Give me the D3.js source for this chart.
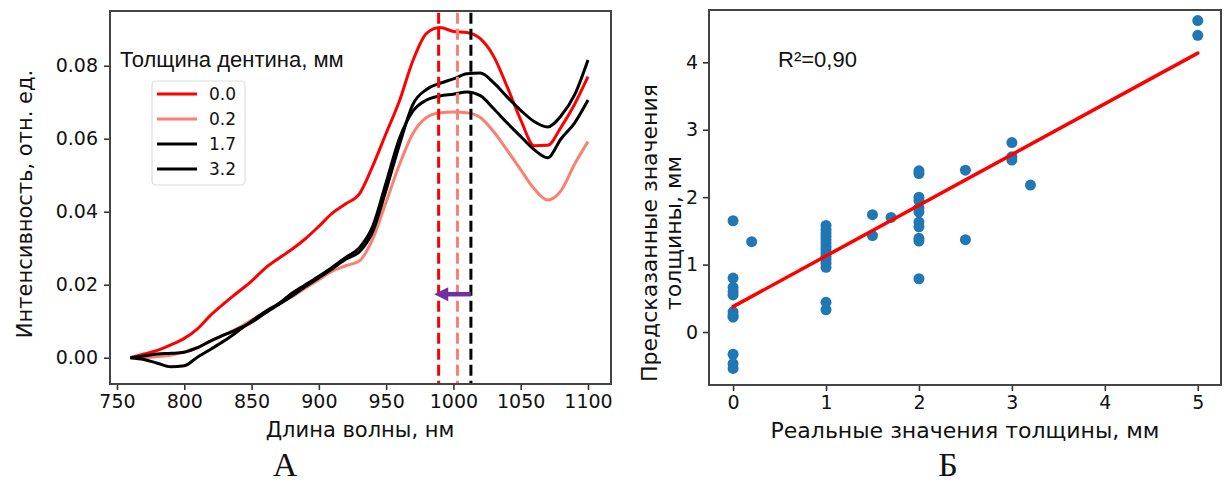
<!DOCTYPE html>
<html>
<head>
<meta charset="utf-8">
<script src="https://cdn.jsdelivr.net/npm/d3@7"></script>
<style>
  body { margin: 0; background: #fff; }
  svg text { font-family: "DejaVu Sans", sans-serif; fill: #111; }
</style>
</head>
<body>
<div id="chart"></div>
<script>
// ---- data: panel A (spectra) ----
var wavelength = [760, 770, 780, 790, 800, 810, 820, 830, 840, 850, 860, 870, 880, 890, 900,
  910, 920, 930, 940, 950, 960, 970, 980, 990, 1000, 1010, 1020, 1030, 1040, 1050,
  1060, 1070, 1080, 1090, 1100];
var dentin00 = [0.000, 0.001, 0.002, 0.0035, 0.0053, 0.008, 0.0118, 0.015, 0.018, 0.021, 0.0245,
  0.0272, 0.0297, 0.0326, 0.036, 0.0396, 0.0422, 0.0448, 0.0525, 0.0615, 0.0705, 0.0815,
  0.0889, 0.0905, 0.0894, 0.0891, 0.0874, 0.0825, 0.0742, 0.0652, 0.0581, 0.0582, 0.0632,
  0.0694, 0.077];
var dentin02 = [0.000, 0.000, 0.0003, 0.0007, 0.0016, 0.0028, 0.0046, 0.0063, 0.0081, 0.0103,
  0.0125, 0.0148, 0.0167, 0.0191, 0.0214, 0.0237, 0.0252, 0.0265, 0.0325, 0.0427, 0.053,
  0.0615, 0.0658, 0.0671, 0.0673, 0.0671, 0.0658, 0.0619, 0.0568, 0.0515, 0.0463, 0.0432,
  0.0458, 0.053, 0.0592];
var dentin17 = [0.000, 0.0005, 0.001, 0.0012, 0.0015, 0.0028, 0.0047, 0.0063, 0.0079, 0.0097,
  0.0122, 0.0145, 0.0169, 0.0195, 0.0219, 0.0244, 0.027, 0.029, 0.0345, 0.046, 0.0585,
  0.0695, 0.0735, 0.0752, 0.0764, 0.0778, 0.078, 0.0753, 0.0714, 0.0678, 0.0647, 0.0632,
  0.0663, 0.072, 0.0816];
var dentin32 = [0.000, -0.0005, -0.0015, -0.0025, -0.0022, 0.0002, 0.0024, 0.0047, 0.0073, 0.01,
  0.0126, 0.0148, 0.0177, 0.02, 0.0223, 0.0248, 0.0275, 0.0301, 0.036, 0.048, 0.0602,
  0.0676, 0.0706, 0.0717, 0.0722, 0.0728, 0.0718, 0.0682, 0.0643, 0.0606, 0.057, 0.0548,
  0.06, 0.0643, 0.0706];
var legendLabels = ["0.0", "0.2", "1.7", "3.2"];
var peakWavelength = [989, 1003, 1013];
var arrowFrom = 1013, arrowTo = 988, arrowLevel = 0.0174;
var xTicksA = [750, 800, 850, 900, 950, 1000, 1050, 1100];
var yTicksA = [0, 0.02, 0.04, 0.06, 0.08];

// ---- data: panel B (prediction) ----
var realThickness = [0, 0, 0, 0, 0, 0, 0, 0, 0, 0, 0,
  0.2,
  1, 1, 1, 1, 1, 1, 1, 1, 1, 1, 1, 1, 1, 1, 1,
  1.5, 1.5, 1.7,
  2, 2, 2, 2, 2, 2, 2, 2, 2, 2, 2,
  2.5, 2.5, 3, 3, 3, 3.2, 5, 5];
var predictedThickness = [1.65, 0.80, 0.66, 0.60, 0.55, 0.30, 0.25, 0.22, -0.33, -0.47, -0.54,
  1.34,
  1.58, 1.52, 1.47, 1.42, 1.37, 1.32, 1.27, 1.22, 1.17, 1.12, 1.07, 1.02, 0.96, 0.44, 0.33,
  1.74, 1.43, 1.70,
  2.39, 2.35, 2.00, 1.95, 1.84, 1.78, 1.63, 1.56, 1.39, 1.35, 0.79,
  2.40, 1.37, 2.81, 2.60, 2.55, 2.18, 4.62, 4.40];
var fitIntercept = 0.376, fitSlope = 0.752;
var fitRange = [0, 5];
var xTicksB = [0, 1, 2, 3, 4, 5];
var yTicksB = [0, 1, 2, 3, 4];

var svg = d3.select("#chart").append("svg")
  .attr("width", 1230)
  .attr("height", 504);
svg.append("rect").attr("width", 1230).attr("height", 504).attr("fill", "#fff");

function styleAxis(g) {
  g.select(".domain").remove();
  g.selectAll(".tick line").attr("stroke", "#333").attr("stroke-width", 1.6);
  g.selectAll(".tick text").style("font-size", "19px").attr("fill", "#111");
}

// ================= panel A =================
var xA = d3.scaleLinear().domain([744.8, 1117.1]).range([110, 611]);
var yA = d3.scaleLinear().domain([-0.0072, 0.095]).range([384, 11]);

svg.append("g")
  .attr("transform", "translate(0,384)")
  .call(d3.axisBottom(xA).tickValues(xTicksA).tickFormat(d3.format("d")).tickSize(6).tickPadding(5))
  .call(styleAxis);
svg.append("g")
  .attr("transform", "translate(110,0)")
  .call(d3.axisLeft(yA).tickValues(yTicksA).tickFormat(d3.format(".2f")).tickSize(6).tickPadding(6))
  .call(styleAxis);

var seriesA = [
  {label: legendLabels[0], values: dentin00, color: "#ff0000"},
  {label: legendLabels[1], values: dentin02, color: "#fa8072"},
  {label: legendLabels[2], values: dentin17, color: "#000"},
  {label: legendLabels[3], values: dentin32, color: "#000"}
];

var line = d3.line()
  .x(function(d, i) { return xA(wavelength[i]); })
  .y(function(d) { return yA(d); })
  .curve(d3.curveMonotoneX);

svg.append("g").selectAll("path")
  .data(seriesA)
  .enter()
  .append("path")
    .attr("d", function(d) { return line(d.values); })
    .attr("fill", "none")
    .attr("stroke", function(d) { return d.color; })
    .attr("stroke-width", 3)
    .attr("stroke-linejoin", "round");

// dashed peak markers
var peakColors = ["#ff0000", "#fa8072", "#000"];
svg.append("g").selectAll("line")
  .data(peakWavelength)
  .enter()
  .append("line")
    .attr("x1", function(d) { return xA(d); })
    .attr("x2", function(d) { return xA(d); })
    .attr("y1", yA(0.0945))
    .attr("y2", yA(-0.0072))
    .attr("stroke", function(d, i) { return peakColors[i]; })
    .attr("stroke-width", 3)
    .attr("stroke-dasharray", "11,5");

// shift arrow
var arrowColor = "#7030a0";
svg.append("line")
  .attr("x1", xA(arrowFrom)).attr("x2", xA(arrowTo) + 10)
  .attr("y1", yA(arrowLevel)).attr("y2", yA(arrowLevel))
  .attr("stroke", arrowColor).attr("stroke-width", 4.5);
svg.append("path")
  .attr("d", "M" + (xA(arrowTo) - 3) + "," + yA(arrowLevel)
    + "L" + (xA(arrowTo) + 11) + "," + (yA(arrowLevel) - 7)
    + "L" + (xA(arrowTo) + 11) + "," + (yA(arrowLevel) + 7) + "Z")
  .attr("fill", arrowColor);

// legend
svg.append("text")
  .attr("x", 120).attr("y", 67)
  .style("font-family", "'Liberation Sans', Arial, sans-serif")
  .style("font-size", "22px")
  .text("Толщина дентина, мм");

var legend = svg.append("g").attr("transform", "translate(152,81)");
legend.append("rect")
  .attr("width", 93).attr("height", 104).attr("rx", 4)
  .attr("fill", "#fff").attr("stroke", "#ddd").attr("stroke-width", 1.2);
var items = legend.selectAll("g.item")
  .data(seriesA)
  .enter()
  .append("g")
    .attr("transform", function(d, i) { return "translate(0," + (13 + i * 25) + ")"; });
items.append("line")
  .attr("x1", 5).attr("x2", 45)
  .attr("stroke", function(d) { return d.color; })
  .attr("stroke-width", 3);
items.append("text")
  .attr("x", 57).attr("dy", "0.36em")
  .style("font-size", "17px")
  .text(function(d) { return d.label; });

// frame
svg.append("rect")
  .attr("x", 110).attr("y", 11).attr("width", 501).attr("height", 373)
  .attr("fill", "none").attr("stroke", "#444").attr("stroke-width", 2);

svg.append("text")
  .attr("x", 360).attr("y", 437)
  .attr("text-anchor", "middle")
  .style("font-size", "21px")
  .text("Длина волны, нм");
svg.append("text")
  .attr("transform", "translate(32,204) rotate(-90)")
  .attr("text-anchor", "middle")
  .style("font-size", "21px")
  .text("Интенсивность, отн. ед.");

// ================= panel B =================
var xB = d3.scaleLinear().domain([-0.259, 5.25]).range([709, 1221]);
var yB = d3.scaleLinear().domain([-0.786, 4.776]).range([385, 10]);

svg.append("g")
  .attr("transform", "translate(0,385)")
  .call(d3.axisBottom(xB).tickValues(xTicksB).tickFormat(d3.format("d")).tickSize(6).tickPadding(5))
  .call(styleAxis);
svg.append("g")
  .attr("transform", "translate(709,0)")
  .call(d3.axisLeft(yB).tickValues(yTicksB).tickFormat(d3.format("d")).tickSize(6).tickPadding(5))
  .call(styleAxis);

svg.append("g").selectAll("circle")
  .data(realThickness)
  .enter()
  .append("circle")
    .attr("cx", function(d) { return xB(d); })
    .attr("cy", function(d, i) { return yB(predictedThickness[i]); })
    .attr("r", 5.5)
    .attr("fill", "#1f77b4");

svg.append("line")
  .attr("x1", xB(fitRange[0])).attr("y1", yB(fitIntercept + fitSlope * fitRange[0]))
  .attr("x2", xB(fitRange[1])).attr("y2", yB(fitIntercept + fitSlope * fitRange[1]))
  .attr("stroke", "#ff0000").attr("stroke-width", 3.5).attr("stroke-linecap", "round");

svg.append("text")
  .attr("x", 778).attr("y", 67)
  .style("font-family", "'Liberation Sans', Arial, sans-serif")
  .style("font-size", "22px")
  .text("R²=0,90");

svg.append("rect")
  .attr("x", 709).attr("y", 10).attr("width", 512).attr("height", 375)
  .attr("fill", "none").attr("stroke", "#444").attr("stroke-width", 2);

svg.append("text")
  .attr("x", 965).attr("y", 438)
  .attr("text-anchor", "middle")
  .style("font-size", "22px")
  .text("Реальные значения толщины, мм");
svg.append("text")
  .attr("transform", "translate(657,233) rotate(-90)")
  .attr("text-anchor", "middle")
  .style("font-size", "22px")
  .text("Предсказанные значения");
svg.append("text")
  .attr("transform", "translate(681,233) rotate(-90)")
  .attr("text-anchor", "middle")
  .style("font-size", "22px")
  .text("толщины, мм");

// panel letters
svg.append("text")
  .attr("x", 285).attr("y", 476)
  .attr("text-anchor", "middle")
  .style("font-family", "'Liberation Serif', 'Times New Roman', serif")
  .style("font-size", "34px")
  .text("А");
svg.append("text")
  .attr("x", 948).attr("y", 476)
  .attr("text-anchor", "middle")
  .style("font-family", "'Liberation Serif', 'Times New Roman', serif")
  .style("font-size", "34px")
  .text("Б");
</script>
</body>
</html>
